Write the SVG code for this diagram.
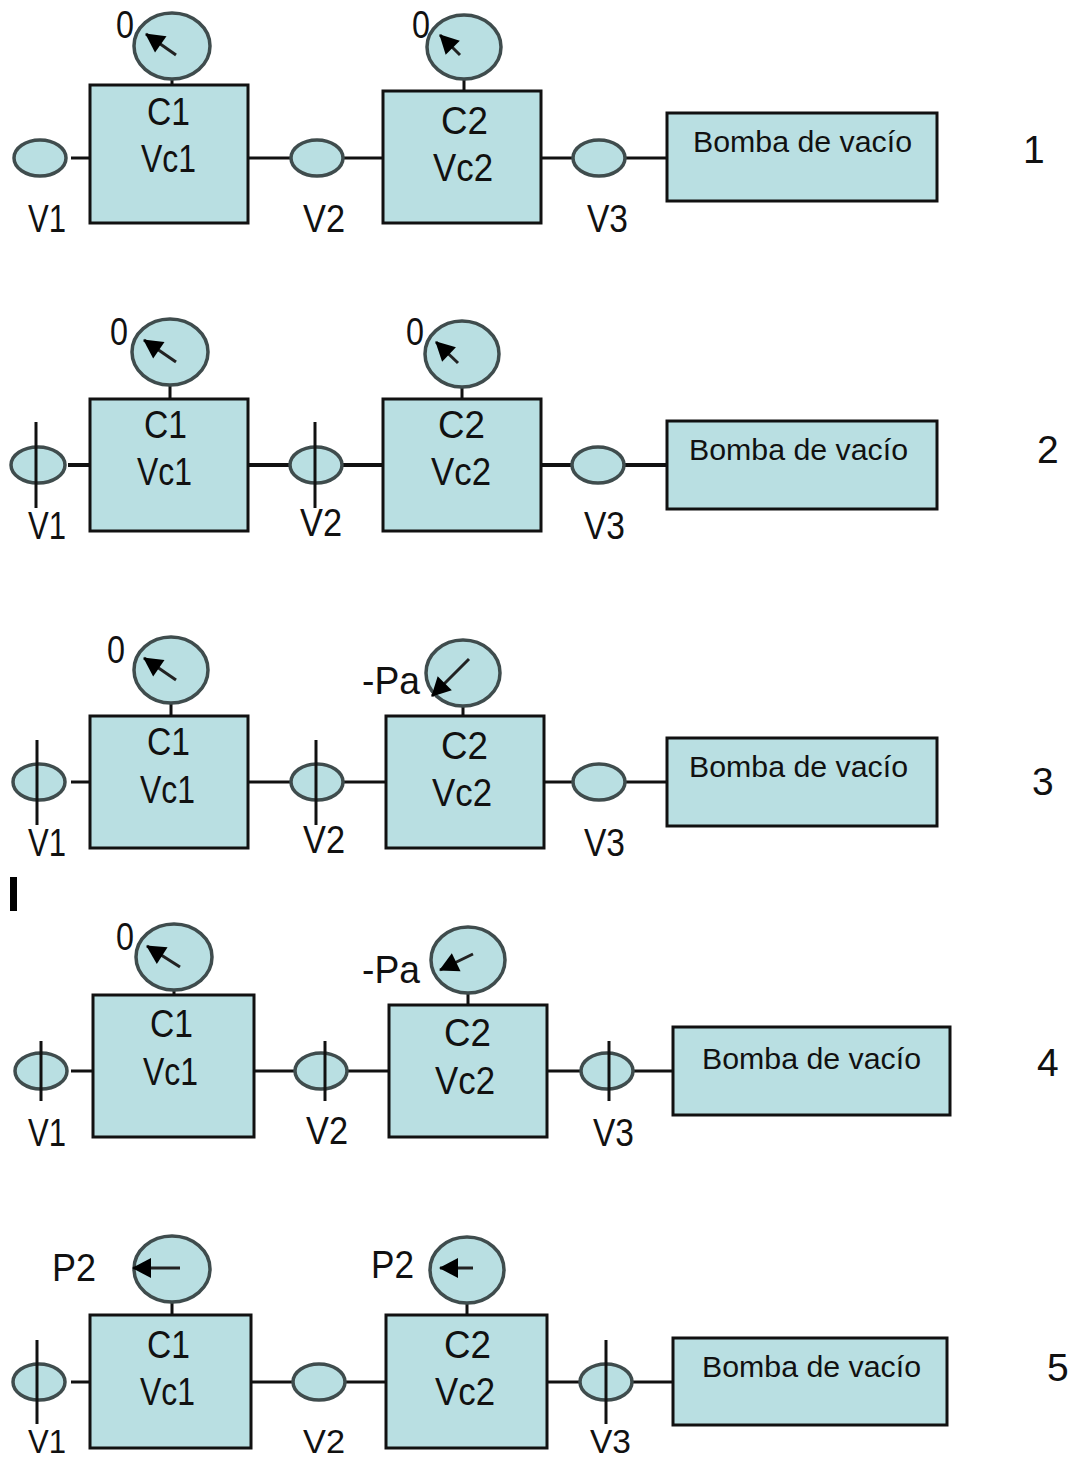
<svg xmlns="http://www.w3.org/2000/svg" width="1073" height="1461" viewBox="0 0 1073 1461">
<defs><marker id="ah" markerUnits="userSpaceOnUse" markerWidth="24" markerHeight="24" refX="19" refY="12" orient="auto"><path d="M1 2L20 12L1 22Z" fill="#000"/></marker></defs>
<style>
.b{fill:#b9dfe2;stroke:#111;stroke-width:3}
.e{fill:#b9dfe2;stroke:#3f4c4d;stroke-width:3.5}
.c{stroke:#111;stroke-width:3;fill:none}
.n{stroke:#222;stroke-width:3;fill:none;marker-end:url(#ah)}
.p{stroke:#111;stroke-width:3}
text{font-family:"Liberation Sans",Arial,sans-serif;fill:#111}
.l{font-size:39px}
.s{font-size:30px}
.t{font-size:34px}
</style>
<rect width="1073" height="1461" fill="#fff"/>
<g id="connectors">
<path class="c" d="M71 158H90M248 158H291M343 158H383M541 158H573M625 158H667M172 79V85M464 80V91"/>
<path class="c" style="stroke-width:4" d="M68 465H90M248 465H290M342 465H383M541 465H572M624 465H667"/>
<path class="c" d="M170 385V399M462 387V399"/>
<path class="c" d="M71 782H90M248 782H291M343 782H386M544 782H573M625 782H667M171 703V716M463 706V716"/>
<path class="c" d="M71 1071H93M254 1071H295M347 1071H389M547 1071H581M633 1071H673M174 990V995M468 993V1005"/>
<path class="c" d="M71 1382H90M251 1382H293M345 1382H386M547 1382H580M632 1382H673M172 1302V1315M467 1303V1315"/>
</g>
<g id="row1">
<g id="r1-c1"><rect class="b" x="90" y="85" width="158" height="138"/><text class="l" x="147" y="125" textLength="43" lengthAdjust="spacingAndGlyphs">C1</text><text class="l" x="141" y="172" textLength="55" lengthAdjust="spacingAndGlyphs">Vc1</text></g>
<g id="r1-c2"><rect class="b" x="383" y="91" width="158" height="132"/><text class="l" x="441" y="134" textLength="47" lengthAdjust="spacingAndGlyphs">C2</text><text class="l" x="433" y="181" textLength="60" lengthAdjust="spacingAndGlyphs">Vc2</text></g>
<g id="r1-g1"><ellipse class="e" cx="172" cy="46" rx="38" ry="33"/><path class="n" d="M176 55L146 34"/><text class="l" x="116" y="38" textLength="18" lengthAdjust="spacingAndGlyphs">0</text></g>
<g id="r1-g2"><ellipse class="e" cx="464" cy="47" rx="37" ry="32"/><path class="n" d="M460 55L440 35"/><text class="l" x="412" y="38" textLength="18" lengthAdjust="spacingAndGlyphs">0</text></g>
<g id="r1-v1"><ellipse class="e" cx="40" cy="158" rx="26" ry="18"/><text class="l" x="28" y="232" textLength="38" lengthAdjust="spacingAndGlyphs">V1</text></g>
<g id="r1-v2"><ellipse class="e" cx="317" cy="158" rx="26" ry="18"/><text class="l" x="303" y="232" textLength="42" lengthAdjust="spacingAndGlyphs">V2</text></g>
<g id="r1-v3"><ellipse class="e" cx="599" cy="158" rx="26" ry="18"/><text class="l" x="587" y="232" textLength="41" lengthAdjust="spacingAndGlyphs">V3</text></g>
<g id="r1-pump"><rect class="b" x="667" y="113" width="270" height="88"/><text class="s" x="693" y="152" textLength="219" lengthAdjust="spacingAndGlyphs">Bomba de vacío</text></g>
<text id="r1-num" class="l" x="1023" y="163">1</text>
</g>
<g id="row2">
<g id="r2-c1"><rect class="b" x="90" y="399" width="158" height="132"/><text class="l" x="144" y="438" textLength="43" lengthAdjust="spacingAndGlyphs">C1</text><text class="l" x="137" y="485" textLength="55" lengthAdjust="spacingAndGlyphs">Vc1</text></g>
<g id="r2-c2"><rect class="b" x="383" y="399" width="158" height="132"/><text class="l" x="438" y="438" textLength="47" lengthAdjust="spacingAndGlyphs">C2</text><text class="l" x="431" y="485" textLength="60" lengthAdjust="spacingAndGlyphs">Vc2</text></g>
<g id="r2-g1"><ellipse class="e" cx="170" cy="352" rx="38" ry="33"/><path class="n" d="M176 362L144 340"/><text class="l" x="110" y="345" textLength="18" lengthAdjust="spacingAndGlyphs">0</text></g>
<g id="r2-g2"><ellipse class="e" cx="462" cy="354" rx="37" ry="33"/><path class="n" d="M458 363L436 342"/><text class="l" x="406" y="345" textLength="18" lengthAdjust="spacingAndGlyphs">0</text></g>
<g id="r2-v1"><ellipse class="e" cx="38" cy="465" rx="27" ry="18"/><path class="p" d="M36 422V508"/><text class="l" x="28" y="539" textLength="38" lengthAdjust="spacingAndGlyphs">V1</text></g>
<g id="r2-v2"><ellipse class="e" cx="316" cy="465" rx="26" ry="18"/><path class="p" d="M315 422V508"/><text class="l" x="300" y="536" textLength="42" lengthAdjust="spacingAndGlyphs">V2</text></g>
<g id="r2-v3"><ellipse class="e" cx="598" cy="465" rx="26" ry="18"/><text class="l" x="584" y="539" textLength="41" lengthAdjust="spacingAndGlyphs">V3</text></g>
<g id="r2-pump"><rect class="b" x="667" y="421" width="270" height="88"/><text class="s" x="689" y="460" textLength="219" lengthAdjust="spacingAndGlyphs">Bomba de vacío</text></g>
<text id="r2-num" class="l" x="1037" y="463">2</text>
</g>
<g id="row3">
<g id="r3-c1"><rect class="b" x="90" y="716" width="158" height="132"/><text class="l" x="147" y="755" textLength="43" lengthAdjust="spacingAndGlyphs">C1</text><text class="l" x="140" y="803" textLength="55" lengthAdjust="spacingAndGlyphs">Vc1</text></g>
<g id="r3-c2"><rect class="b" x="386" y="716" width="158" height="132"/><text class="l" x="441" y="759" textLength="47" lengthAdjust="spacingAndGlyphs">C2</text><text class="l" x="432" y="806" textLength="60" lengthAdjust="spacingAndGlyphs">Vc2</text></g>
<g id="r3-g1"><ellipse class="e" cx="171" cy="670" rx="37" ry="33"/><path class="n" d="M176 680L144 658"/><text class="l" x="107" y="663" textLength="18" lengthAdjust="spacingAndGlyphs">0</text></g>
<g id="r3-g2"><ellipse class="e" cx="463" cy="673" rx="37" ry="33"/><path class="n" d="M469 659L432 696"/><text class="l" x="362" y="694" textLength="58" lengthAdjust="spacingAndGlyphs">-Pa</text></g>
<g id="r3-v1"><ellipse class="e" cx="39" cy="782" rx="26" ry="18"/><path class="p" d="M37 740V825"/><text class="l" x="28" y="856" textLength="38" lengthAdjust="spacingAndGlyphs">V1</text></g>
<g id="r3-v2"><ellipse class="e" cx="317" cy="782" rx="26" ry="18"/><path class="p" d="M316 740V825"/><text class="l" x="303" y="853" textLength="42" lengthAdjust="spacingAndGlyphs">V2</text></g>
<g id="r3-v3"><ellipse class="e" cx="599" cy="782" rx="26" ry="18"/><text class="l" x="584" y="856" textLength="41" lengthAdjust="spacingAndGlyphs">V3</text></g>
<g id="r3-pump"><rect class="b" x="667" y="738" width="270" height="88"/><text class="s" x="689" y="777" textLength="219" lengthAdjust="spacingAndGlyphs">Bomba de vacío</text></g>
<text id="r3-num" class="l" x="1032" y="795">3</text>
</g>
<rect id="stray-bar" x="10" y="877" width="7" height="34" fill="#000"/>
<g id="row4">
<g id="r4-c1"><rect class="b" x="93" y="995" width="161" height="142"/><text class="l" x="150" y="1037" textLength="43" lengthAdjust="spacingAndGlyphs">C1</text><text class="l" x="143" y="1085" textLength="55" lengthAdjust="spacingAndGlyphs">Vc1</text></g>
<g id="r4-c2"><rect class="b" x="389" y="1005" width="158" height="132"/><text class="l" x="444" y="1046" textLength="47" lengthAdjust="spacingAndGlyphs">C2</text><text class="l" x="435" y="1094" textLength="60" lengthAdjust="spacingAndGlyphs">Vc2</text></g>
<g id="r4-g1"><ellipse class="e" cx="174" cy="957" rx="38" ry="33"/><path class="n" d="M180 967L147 946"/><text class="l" x="116" y="950" textLength="18" lengthAdjust="spacingAndGlyphs">0</text></g>
<g id="r4-g2"><ellipse class="e" cx="468" cy="960" rx="37" ry="33"/><path class="n" d="M473 954L440 970"/><text class="l" x="362" y="983" textLength="58" lengthAdjust="spacingAndGlyphs">-Pa</text></g>
<g id="r4-v1"><ellipse class="e" cx="41" cy="1071" rx="26" ry="18"/><path class="p" d="M41 1041V1101"/><text class="l" x="28" y="1146" textLength="38" lengthAdjust="spacingAndGlyphs">V1</text></g>
<g id="r4-v2"><ellipse class="e" cx="321" cy="1071" rx="26" ry="18"/><path class="p" d="M325 1041V1101"/><text class="l" x="306" y="1144" textLength="42" lengthAdjust="spacingAndGlyphs">V2</text></g>
<g id="r4-v3"><ellipse class="e" cx="607" cy="1071" rx="26" ry="18"/><path class="p" d="M609 1041V1101"/><text class="l" x="593" y="1146" textLength="41" lengthAdjust="spacingAndGlyphs">V3</text></g>
<g id="r4-pump"><rect class="b" x="673" y="1027" width="277" height="88"/><text class="s" x="702" y="1069" textLength="219" lengthAdjust="spacingAndGlyphs">Bomba de vacío</text></g>
<text id="r4-num" class="l" x="1037" y="1076">4</text>
</g>
<g id="row5">
<g id="r5-c1"><rect class="b" x="90" y="1315" width="161" height="133"/><text class="l" x="147" y="1358" textLength="43" lengthAdjust="spacingAndGlyphs">C1</text><text class="l" x="140" y="1405" textLength="55" lengthAdjust="spacingAndGlyphs">Vc1</text></g>
<g id="r5-c2"><rect class="b" x="386" y="1315" width="161" height="133"/><text class="l" x="444" y="1358" textLength="47" lengthAdjust="spacingAndGlyphs">C2</text><text class="l" x="435" y="1405" textLength="60" lengthAdjust="spacingAndGlyphs">Vc2</text></g>
<g id="r5-g1"><ellipse class="e" cx="172" cy="1269" rx="38" ry="33"/><path class="n" d="M180 1268H133"/><text class="l" x="52" y="1281" textLength="44" lengthAdjust="spacingAndGlyphs">P2</text></g>
<g id="r5-g2"><ellipse class="e" cx="467" cy="1270" rx="37" ry="33"/><path class="n" d="M473 1268H440"/><text class="l" x="371" y="1278" textLength="43" lengthAdjust="spacingAndGlyphs">P2</text></g>
<g id="r5-v1"><ellipse class="e" cx="39" cy="1382" rx="26" ry="18"/><path class="p" d="M37 1340V1424"/><text class="t" x="28" y="1453" textLength="38" lengthAdjust="spacingAndGlyphs">V1</text></g>
<g id="r5-v2"><ellipse class="e" cx="319" cy="1382" rx="26" ry="18"/><text class="t" x="303" y="1453" textLength="42" lengthAdjust="spacingAndGlyphs">V2</text></g>
<g id="r5-v3"><ellipse class="e" cx="606" cy="1382" rx="26" ry="18"/><path class="p" d="M606 1340V1424"/><text class="t" x="590" y="1453" textLength="41" lengthAdjust="spacingAndGlyphs">V3</text></g>
<g id="r5-pump"><rect class="b" x="673" y="1338" width="274" height="87"/><text class="s" x="702" y="1377" textLength="219" lengthAdjust="spacingAndGlyphs">Bomba de vacío</text></g>
<text id="r5-num" class="l" x="1047" y="1381">5</text>
</g>
</svg>
